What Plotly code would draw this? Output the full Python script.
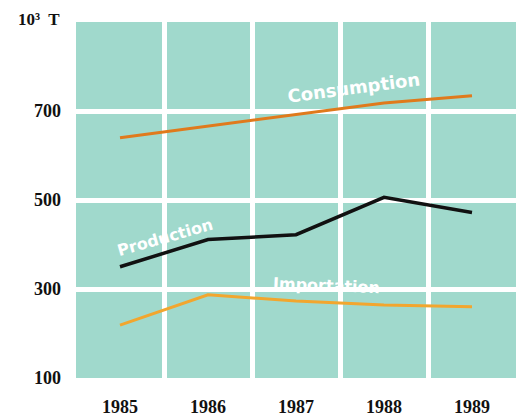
import plotly.graph_objects as go

years = [1985, 1986, 1987, 1988, 1989]
consumption = [640, 666, 691, 718, 734]
production = [350, 411, 422, 506, 472]
importation = [219, 287, 273, 264, 260]
y_ticks = [100, 300, 500, 700]

serif = "Liberation Serif"
fig = go.Figure()
fig.add_trace(go.Scatter(x=years, y=consumption, mode="lines", name="Consumption",
                         line=dict(color="#e07a1c", width=3)))
fig.add_trace(go.Scatter(x=years, y=production, mode="lines", name="Production",
                         line=dict(color="#111111", width=3.5)))
fig.add_trace(go.Scatter(x=years, y=importation, mode="lines", name="Importation",
                         line=dict(color="#f2a62e", width=3)))

fig.add_annotation(x=1987.66, y=752, text="<b>Consumption</b>", showarrow=False,
                   textangle=-7.5, font=dict(family="DejaVu Sans", size=18, color="white"))
fig.add_annotation(x=1985.51, y=415, text="<b>Production</b>", showarrow=False,
                   textangle=-16, font=dict(family="DejaVu Sans", size=16, color="white"))
fig.add_annotation(x=1987.35, y=307, text="<b>Importation</b>", showarrow=False,
                   textangle=2.5, font=dict(family="DejaVu Sans", size=16, color="white"))
fig.add_annotation(xref="paper", yref="paper", x=-0.032, y=1.0, xanchor="right", yanchor="middle",
                   yshift=3, text="<b>10³  T</b>", showarrow=False,
                   font=dict(family=serif, size=17, color="#111"))

# page body has an 8px margin, so the figure is sized/offset to compensate
fig.update_layout(
    width=524, height=408,
    margin=dict(l=68, r=16, t=14, b=38),
    paper_bgcolor="white", plot_bgcolor="#a0d9cc",
    showlegend=False,
    font=dict(family=serif, size=18, color="#111"),
)
fig.update_xaxes(range=[1984.5, 1989.5], tickvals=years,
                 ticktext=[f"<b>{y}</b>" for y in years], automargin=False,
                 showgrid=False, zeroline=False, showline=False,
                 ticks="", ticklabelstandoff=16,
                 minor=dict(tick0=1984.5, dtick=1, showgrid=True, gridcolor="white", gridwidth=5))
fig.update_yaxes(range=[100, 900], tickvals=y_ticks,
                 ticktext=[f"<b>{v}</b>" for v in y_ticks], automargin=False,
                 showgrid=True, gridcolor="white", gridwidth=5,
                 zeroline=False, showline=False, ticks="", ticklabelstandoff=14)

fig.write_html("out.html")
